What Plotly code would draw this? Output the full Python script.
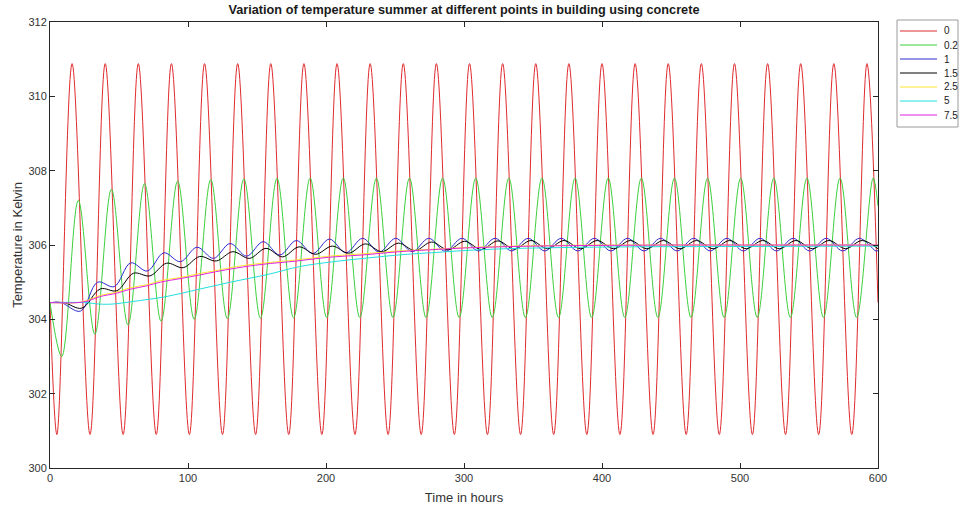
import plotly.graph_objects as go

# Temperature (K) at depths 0, 0.2, 1, 1.5, 2.5, 5 and 7.5 through a concrete wall,
# summer case, over 600 hours. The oscillating series are given by their turning points.

red_t = [0, 5, 16, 29, 40, 53, 64, 77, 88, 101, 112, 125, 136, 149, 160, 173, 184, 197,
         208, 221, 232, 245, 256, 269, 280, 293, 304, 317, 328, 341, 352, 365, 376, 389,
         400, 413, 424, 437, 448, 461, 472, 485, 496, 509, 520, 533, 544, 557, 568, 581,
         592, 600]
red_v = [304.45, 300.9, 310.88, 300.9, 310.88, 300.9, 310.88, 300.9, 310.88, 300.9, 310.88,
         300.9, 310.88, 300.9, 310.88, 300.9, 310.88, 300.9, 310.88, 300.9, 310.88, 300.9,
         310.88, 300.9, 310.88, 300.9, 310.88, 300.9, 310.88, 300.9, 310.88, 300.9, 310.88,
         300.9, 310.88, 300.9, 310.88, 300.9, 310.88, 300.9, 310.88, 300.9, 310.88, 300.9,
         310.88, 300.9, 310.88, 300.9, 310.88, 300.9, 310.88, 304.45]

green_t = [0, 8.5, 20.5, 32.5, 44.5, 56.5, 68.5, 80.5, 92.5, 104.5, 116.5, 128.5, 140.5,
           152.5, 164.5, 176.5, 188.5, 200.5, 212.5, 224.5, 236.5, 248.5, 260.5, 272.5,
           284.5, 296.5, 308.5, 320.5, 332.5, 344.5, 356.5, 368.5, 380.5, 392.5, 404.5,
           416.5, 428.5, 440.5, 452.5, 464.5, 476.5, 488.5, 500.5, 512.5, 524.5, 536.5,
           548.5, 560.5, 572.5, 584.5, 596.5, 600]
green_v = [304.45, 303.0, 307.2, 303.6, 307.5, 303.85, 307.65, 303.95, 307.72, 304.0, 307.76,
           304.02, 307.78, 304.03, 307.79, 304.04, 307.8, 304.05, 307.8, 304.05, 307.8,
           304.05, 307.8, 304.05, 307.8, 304.05, 307.8, 304.05, 307.8, 304.05, 307.8, 304.05,
           307.8, 304.05, 307.8, 304.05, 307.8, 304.05, 307.8, 304.05, 307.8, 304.05, 307.8,
           304.05, 307.8, 304.05, 307.8, 304.05, 307.8, 304.05, 307.8, 307.05]

blue_t = [0, 8, 22, 34.5, 46.5, 58.5, 70.5, 82.5, 94.5, 106.5, 118.5, 130.5, 142.5, 154.5,
          166.5, 178.5, 190.5, 202.5, 214.5, 226.5, 238.5, 250.5, 262.5, 274.5, 286.5,
          298.5, 310.5, 322.5, 334.5, 346.5, 358.5, 370.5, 382.5, 394.5, 406.5, 418.5,
          430.5, 442.5, 454.5, 466.5, 478.5, 490.5, 502.5, 514.5, 526.5, 538.5, 550.5,
          562.5, 574.5, 586.5, 598.5, 600]
blue_v = [304.45, 304.45, 304.22, 305.0, 304.88, 305.52, 305.3, 305.79, 305.55, 305.94,
          305.64, 306.04, 305.7, 306.09, 305.73, 306.12, 305.77, 306.16, 305.79, 306.18,
          305.81, 306.18, 305.82, 306.18, 305.83, 306.18, 305.84, 306.18, 305.84, 306.18,
          305.84, 306.18, 305.84, 306.18, 305.84, 306.18, 305.84, 306.18, 305.84, 306.18,
          305.84, 306.18, 305.84, 306.18, 305.84, 306.18, 305.84, 306.18, 305.84, 306.18,
          305.84, 305.85]

black_t = [0, 10, 23, 36.5, 48.5, 60.5, 72.5, 84.5, 96.5, 108.5, 120.5, 132.5, 144.5, 156.5,
           168.5, 180.5, 192.5, 204.5, 216.5, 228.5, 240.5, 252.5, 264.5, 276.5, 288.5,
           300.5, 312.5, 324.5, 336.5, 348.5, 360.5, 372.5, 384.5, 396.5, 408.5, 420.5,
           432.5, 444.5, 456.5, 468.5, 480.5, 492.5, 504.5, 516.5, 528.5, 540.5, 552.5,
           564.5, 576.5, 588.5, 600]
black_v = [304.45, 304.45, 304.3, 304.82, 304.77, 305.24, 305.17, 305.51, 305.39, 305.69,
           305.57, 305.82, 305.64, 305.91, 305.68, 305.95, 305.75, 305.97, 305.78, 306.03,
           305.82, 306.05, 305.85, 306.08, 305.87, 306.1, 305.88, 306.11, 305.89, 306.12,
           305.9, 306.12, 305.9, 306.12, 305.9, 306.12, 305.9, 306.12, 305.9, 306.12,
           305.9, 306.12, 305.9, 306.12, 305.9, 306.12, 305.9, 306.12, 305.9, 306.12, 305.9]

yellow_t = [0, 20, 28, 36, 48, 58, 70, 80, 95, 108, 120, 135, 154, 179, 202, 226, 253, 275,
            300, 325, 350, 400, 450, 500, 550, 600]
yellow_v = [304.45, 304.45, 304.52, 304.64, 304.73, 304.85, 304.93, 305.04, 305.13, 305.23,
            305.31, 305.42, 305.51, 305.6, 305.7, 305.76, 305.84, 305.88, 305.93, 305.96,
            305.98, 306.0, 306.0, 306.0, 306.0, 306.0]

cyan_t = [0, 25, 36, 45, 60, 84, 108, 132, 157, 181, 205, 230, 255, 280, 300, 330, 370, 420,
          500, 600]
cyan_v = [304.45, 304.45, 304.41, 304.41, 304.48, 304.61, 304.81, 305.01, 305.2, 305.42,
          305.55, 305.65, 305.74, 305.8, 305.85, 305.9, 305.93, 305.95, 305.96, 305.97]

magenta_t = [0, 20, 28, 36, 48, 58, 70, 80, 95, 108, 120, 135, 154, 179, 202, 226, 253, 275,
             300, 325, 350, 400, 450, 500, 550, 600]
magenta_v = [304.45, 304.45, 304.5, 304.61, 304.7, 304.81, 304.9, 305.0, 305.1, 305.19,
             305.28, 305.38, 305.48, 305.57, 305.67, 305.73, 305.82, 305.87, 305.92, 305.95,
             305.97, 305.99, 306.0, 306.0, 306.0, 306.0]

depth_labels = ["0", "0.2", "1", "1.5", "2.5", "5", "7.5"]
series_t = [red_t, green_t, blue_t, black_t, yellow_t, cyan_t, magenta_t]
series_v = [red_v, green_v, blue_v, black_v, yellow_v, cyan_v, magenta_v]
colors = ["#e02a2e", "#3ccf3c", "#2e2ad0", "#000000", "#ffe330", "#22dede", "#e023e0"]

x_ticks = [0, 100, 200, 300, 400, 500, 600]
y_ticks = [300, 302, 304, 306, 308, 310, 312]

FONT = "Liberation Sans, Arial, Helvetica, sans-serif"
AXIS_COLOR = "#262626"

W, H = 962, 510
M_L, M_R, M_T, M_B = 50, 84, 22, 42
PLOT_W = W - M_L - M_R
PLOT_H = H - M_T - M_B


def px_to_paper(px, py):
    """Convert page pixel coordinates to paper coordinates of the plot area."""
    return (px - M_L) / PLOT_W, (H - M_B - py) / PLOT_H


fig = go.Figure()
for name, t, v, color in zip(depth_labels, series_t, series_v, colors):
    fig.add_trace(go.Scatter(
        x=t, y=v, name=name, mode="lines", showlegend=False,
        line=dict(color=color, width=1, shape="spline", smoothing=1.0),
    ))

# Compact boxed legend at the top right, outside the axes
shapes = []
annotations = []
bx0, by0 = px_to_paper(897, 20)
bx1, by1 = px_to_paper(958, 127)
shapes.append(dict(type="rect", xref="paper", yref="paper", x0=bx0, y0=by1, x1=bx1, y1=by0,
                   line=dict(color="#9a9a9a", width=1), fillcolor="white", layer="above"))
row_step = 14.0
for i, (name, color) in enumerate(zip(depth_labels, colors)):
    row_y = 31 + i * row_step
    lx0, ly = px_to_paper(900, row_y)
    lx1, _ = px_to_paper(937, row_y)
    tx, _ = px_to_paper(942, row_y)
    shapes.append(dict(type="line", xref="paper", yref="paper", x0=lx0, y0=ly, x1=lx1, y1=ly,
                       line=dict(color=color, width=1), layer="above"))
    annotations.append(dict(xref="paper", yref="paper", x=tx, y=ly, text=name,
                            showarrow=False, xanchor="left", yanchor="middle",
                            font=dict(family=FONT, size=10, color="#1a1a1a")))

axis_common = dict(
    showline=True, linecolor=AXIS_COLOR, linewidth=1, mirror="ticks",
    ticks="inside", ticklen=5, tickcolor=AXIS_COLOR, tickwidth=1,
    showgrid=False, zeroline=False,
    tickfont=dict(family=FONT, size=11, color="#333333"),
)

fig.update_layout(
    width=W, height=H,
    margin=dict(l=M_L, r=M_R, t=M_T, b=M_B, autoexpand=False),
    paper_bgcolor="white", plot_bgcolor="white",
    font=dict(family=FONT, color="#262626"),
    title=dict(
        text="<b>Variation of temperature summer at different points in building using concrete</b>",
        x=0.5, xref="paper", xanchor="center",
        y=0.981, yref="container", yanchor="middle",
        font=dict(family=FONT, size=12.7, color="#1a1a1a"),
    ),
    xaxis=dict(range=[0, 600], tickvals=x_ticks,
               title=dict(text="Time in hours", standoff=9,
                          font=dict(family=FONT, size=13, color="#333333")),
               **axis_common),
    yaxis=dict(range=[300, 312], tickvals=y_ticks,
               title=dict(text="Temperature in Kelvin", standoff=2,
                          font=dict(family=FONT, size=13, color="#333333")),
               **axis_common),
    shapes=shapes,
    annotations=annotations,
    showlegend=False,
)

fig.write_html("out.html")
